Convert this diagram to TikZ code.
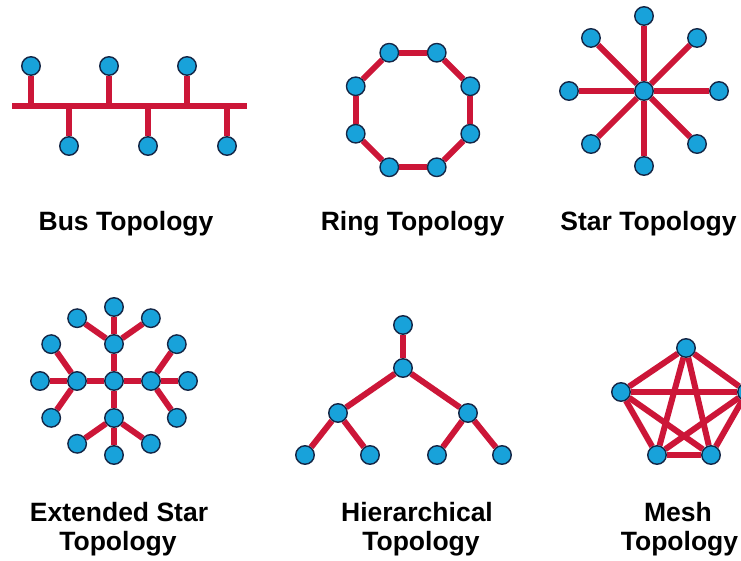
\documentclass[tikz,border=0pt]{standalone}
\usepackage{fontspec}
\setmainfont{Liberation Sans}
\usepackage{xcolor}
\usetikzlibrary{backgrounds}
\definecolor{linkred}{RGB}{204,22,56}
\definecolor{hostblue}{RGB}{24,162,218}
\definecolor{hostrim}{RGB}{20,38,70}

\begin{document}
\begin{tikzpicture}[x=1pt,y=-1pt,
  host/.style={circle,fill=hostblue,draw=hostrim,line width=1.4pt,inner sep=0pt,minimum size=18.5pt},
  link/.style={linkred,line width=6pt},
  caption/.style={font=\fontsize{26.5}{30}\selectfont\bfseries,anchor=base,inner sep=0pt}
]
\useasboundingbox (0,0) rectangle (741,561);
%--- diagram 1: bus ---
\begin{scope}[shift={(129,106)}]
  \coordinate (busL) at (-117,0);
  \coordinate (busR) at (118,0);
  \foreach \x [count=\i] in {-98,-20,58} \node[host] (bt\i) at (\x,-40) {};
  \foreach \x [count=\i] in {-60,19,98} \node[host] (bb\i) at (\x,40) {};
  \begin{pgfonlayer}{background}
    \draw[link] (busL) -- (busR);
    \foreach \i in {1,2,3} {
      \draw[link] (bt\i) -- (bt\i |- busL);
      \draw[link] (bb\i) -- (bb\i |- busL);
    }
  \end{pgfonlayer}
  \node[caption] (buscap) at (-3,125) {Bus Topology};
\end{scope}
%--- diagram 2: ring ---
\begin{scope}[shift={(413,110)}]
  \foreach \i in {0,...,7} \node[host] (r\i) at (22.5+45*\i:62) {};
  \begin{pgfonlayer}{background}
    \foreach \i [evaluate=\i as \j using {int(mod(\i+1,8))}] in {0,...,7}
      \draw[link] (r\i) -- (r\j);
  \end{pgfonlayer}
  \node[caption] (ringcap) at (-0.5,121) {Ring Topology};
\end{scope}
%--- diagram 3: star ---
\begin{scope}[shift={(644,91)}]
  \node[host] (sc) at (0,0) {};
  \foreach \a in {0,45,...,315} \node[host] (s\a) at (\a:75) {};
  \begin{pgfonlayer}{background}
    \foreach \a in {0,45,...,315} \draw[link] (sc) -- (s\a);
  \end{pgfonlayer}
  \node[caption] (starcap) at (4.5,140) {Star Topology};
\end{scope}
%--- diagram 4: extended star ---
\begin{scope}[shift={(114,381)}]
  \node[host] (ec) at (0,0) {};
  \foreach \a in {0,90,180,270} {
    \node[host] (eh\a) at (\a:37) {};
    \node[host] (el\a m) at ([shift={(\a:37)}]\a:37) {};
    \node[host] (el\a p) at ([shift={(\a:37)}]\a+55:45) {};
    \node[host] (el\a n) at ([shift={(\a:37)}]\a-55:45) {};
  }
  \begin{pgfonlayer}{background}
    \foreach \a in {0,90,180,270} {
      \draw[link] (ec) -- (eh\a);
      \draw[link] (eh\a) -- (el\a m);
      \draw[link] (eh\a) -- (el\a p);
      \draw[link] (eh\a) -- (el\a n);
    }
  \end{pgfonlayer}
  \node[caption] (extcapa) at (5,140) {Extended Star};
  \node[caption] (extcapb) at (4,169) {Topology};
\end{scope}
%--- diagram 5: hierarchical ---
\begin{scope}[shift={(403,325)}]
  \node[host] (ht) at (0,0) {};
  \node[host] (hm) at (0,43) {};
  \node[host] (hl) at (-65,88) {};
  \node[host] (hr) at (65,88) {};
  \node[host] (h1) at (-98,130) {};
  \node[host] (h2) at (-33,130) {};
  \node[host] (h3) at (34,130) {};
  \node[host] (h4) at (99,130) {};
  \begin{pgfonlayer}{background}
    \foreach \u/\v in {ht/hm,hm/hl,hm/hr,hl/h1,hl/h2,hr/h3,hr/h4}
      \draw[link] (\u) -- (\v);
  \end{pgfonlayer}
  \node[caption] (hiercapa) at (14,196) {Hierarchical};
  \node[caption] (hiercapb) at (18,225) {Topology};
\end{scope}
%--- diagram 6: mesh ---
\begin{scope}[shift={(684,400)}]
  \node[host] (mt) at (2,-52) {};
  \node[host] (ml) at (-63,-8) {};
  \node[host] (mr) at (63,-8) {};
  \node[host] (mbl) at (-27,55) {};
  \node[host] (mbr) at (27,55) {};
  \begin{pgfonlayer}{background}
    \foreach \u/\v in {mt/ml,mt/mr,mt/mbl,mt/mbr,ml/mr,ml/mbl,ml/mbr,mr/mbl,mr/mbr,mbl/mbr}
      \draw[link] (\u) -- (\v);
  \end{pgfonlayer}
  \node[caption] (meshcapa) at (-6,121) {Mesh};
  \node[caption] (meshcapb) at (-4.5,150) {Topology};
\end{scope}
\end{tikzpicture}
\end{document}
